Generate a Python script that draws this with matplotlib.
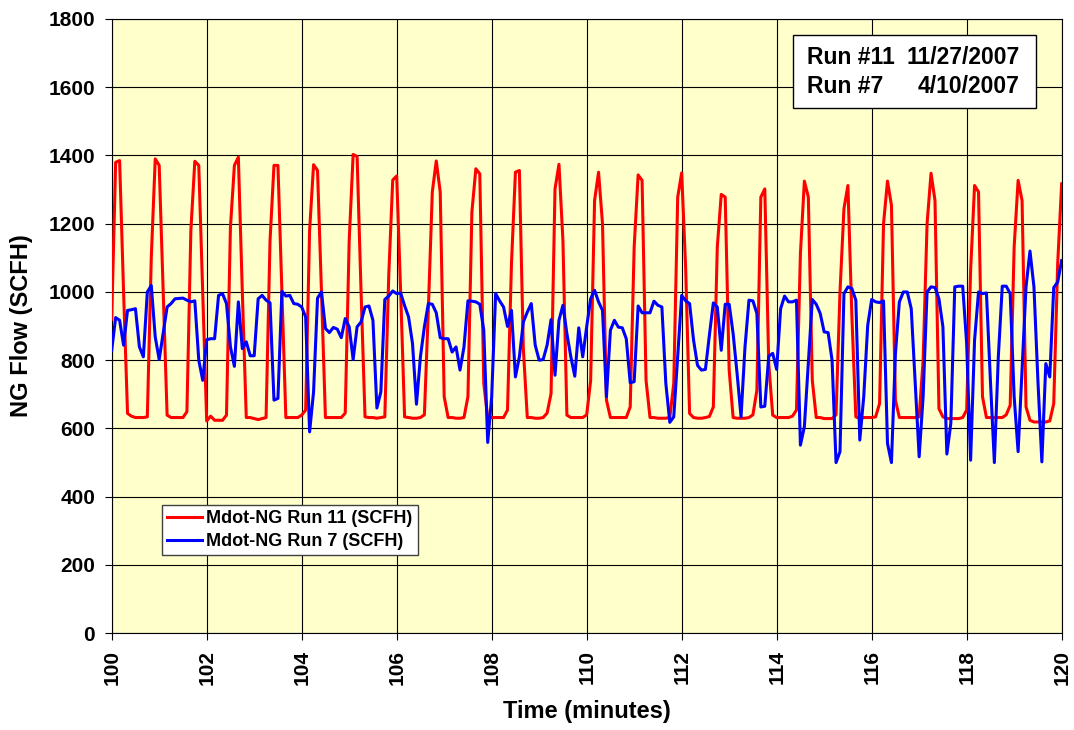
import numpy as np
import matplotlib
matplotlib.use('Agg')
import matplotlib.pyplot as plt
from matplotlib.patches import Rectangle

plt.rcParams['font.family'] = ['Liberation Sans', 'DejaVu Sans']
plt.rcParams['font.weight'] = 'bold'

# samples every 5 s, starting at 100 min
t_start = 100.0
dt_min = 5.0 / 60.0

run11 = [920, 1380, 1385, 1000, 644, 636, 632, 632, 632, 634,
         1100, 1390, 1371, 1000, 639, 632, 632, 632, 632, 649,
         1180, 1383, 1371, 1000, 622, 636, 624, 624, 624, 639,
         1190, 1371, 1395, 1000, 632, 632, 629, 626, 629, 632,
         1150, 1371, 1371, 1000, 632, 632, 632, 632, 639, 654,
         1180, 1373, 1356, 1000, 632, 632, 632, 632, 632, 645,
         1150, 1403, 1397, 1000, 634, 632, 632, 630, 632, 634,
         1050, 1328, 1340, 1000, 634, 632, 630, 630, 632, 640,
         950, 1293, 1384, 1293, 693, 632, 632, 630, 630, 632,
         693, 1234, 1361, 1346, 732, 632, 632, 632, 632, 632,
         654, 1083, 1351, 1356, 834, 632, 632, 630, 630, 632,
         645, 702, 1302, 1374, 1151, 639, 632, 632, 632, 632,
         640, 740, 1268, 1351, 1200, 683, 632, 632, 632, 632,
         632, 663, 1132, 1343, 1327, 741, 632, 632, 630, 630,
         630, 632, 732, 1278, 1349, 1073, 644, 632, 630, 630,
         632, 635, 663, 1132, 1286, 1278, 771, 632, 630, 630,
         630, 632, 640, 712, 1278, 1302, 790, 639, 632, 632,
         632, 632, 636, 654, 1112, 1325, 1278, 741, 632, 632,
         629, 629, 629, 640, 1000, 1244, 1312, 930, 634, 629,
         632, 632, 632, 634, 673, 1200, 1325, 1254, 683, 632,
         632, 632, 632, 632, 634, 800, 1200, 1348, 1268, 658,
         634, 629, 629, 629, 629, 632, 654, 1063, 1312, 1293,
         693, 632, 632, 632, 632, 632, 640, 668, 1132, 1327,
         1268, 663, 624, 619, 619, 619, 619, 622, 673, 1083,
         1317]

run7 = [829, 925, 917, 844, 946, 948, 951, 839, 810, 1000,
        1019, 868, 802, 880, 956, 966, 980, 981, 982, 976,
        971, 974, 800, 741, 860, 863, 863, 990, 995, 966,
        839, 782, 971, 834, 854, 813, 813, 980, 990, 976,
        968, 683, 688, 1002, 988, 990, 966, 964, 956, 927,
        590, 707, 982, 1000, 893, 881, 896, 891, 866, 922,
        898, 802, 898, 912, 956, 959, 917, 660, 707, 978,
        988, 1003, 995, 997, 960, 927, 849, 671, 810, 898,
        966, 964, 939, 866, 863, 863, 824, 839, 771, 839,
        974, 973, 971, 964, 888, 559, 693, 995, 974, 956,
        899, 946, 751, 810, 912, 941, 966, 844, 800, 802,
        844, 919, 756, 917, 961, 878, 810, 753, 895, 810,
        898, 980, 1005, 971, 946, 693, 888, 917, 897, 895,
        863, 734, 737, 959, 939, 939, 939, 973, 961, 956,
        732, 618, 634, 810, 990, 974, 966, 859, 785, 771,
        773, 873, 968, 956, 829, 964, 964, 878, 761, 634,
        839, 976, 974, 937, 663, 665, 812, 820, 773, 951,
        988, 971, 971, 976, 551, 605, 790, 978, 964, 937,
        883, 881, 800, 500, 532, 995, 1015, 1010, 976, 566,
        693, 902, 978, 971, 969, 974, 556, 500, 819, 971,
        1000, 1000, 951, 732, 517, 693, 1000, 1015, 1013, 980,
        898, 525, 615, 1015, 1017, 1017, 849, 507, 859, 1000,
        995, 997, 741, 500, 810, 1017, 1017, 995, 693, 532,
        771, 1015, 1120, 1015, 741, 502, 790, 751, 1013, 1029,
        1092]

labels = ['Mdot-NG Run 11 (SCFH)', 'Mdot-NG Run 7 (SCFH)']
box_runs = ['Run #11', 'Run #7']
box_dates = ['11/27/2007', '4/10/2007']

t = t_start + np.arange(len(run11)) * dt_min

fig = plt.figure(figsize=(10.74, 7.30), dpi=100)
ax = fig.add_axes([0.104, 0.1326, 0.8845, 0.8414])
ax.set_facecolor('#FFFFCC')

ax.plot(t, run11, color='#FF0000', lw=2.2, label=labels[0], zorder=3)
ax.plot(t, run7, color='#0000FF', lw=2.2, label=labels[1], zorder=3)

ax.set_xlim(100, 120)
ax.set_ylim(0, 1800)
ax.set_xticks(np.arange(100, 121, 2))
ax.set_yticks(np.arange(0, 1801, 200))
ax.grid(True, color='black', lw=0.8, zorder=1)
ax.set_axisbelow(True)
ax.tick_params(axis='both', direction='out', length=5, width=0.8, labelsize=15, pad=7)
plt.setp(ax.get_xticklabels(), rotation=90, fontweight='bold')
plt.setp(ax.get_yticklabels(), fontweight='bold')
for s in ax.spines.values():
    s.set_color('black')
    s.set_linewidth(0.8)

ax.set_xlabel('Time (minutes)', fontsize=17, fontweight='bold')
ax.set_ylabel('NG Flow (SCFH)', fontsize=17, fontweight='bold')
ax.xaxis.set_label_coords(0.5, -0.108)
ax.yaxis.set_label_coords(-0.083, 0.5)

leg = ax.legend(loc='upper left', bbox_to_anchor=(0.0526, 0.2087), borderaxespad=0,
                fontsize=13, frameon=True, fancybox=False, handlelength=1.95,
                handletextpad=0.2, labelspacing=0.3, borderpad=0.3)
leg.get_frame().set_edgecolor('#404040')
leg.get_frame().set_facecolor('white')
leg.get_frame().set_alpha(1)
leg.get_frame().set_linewidth(1.0)
for txt in leg.get_texts():
    txt.set_fontweight('bold')

ax.add_patch(Rectangle((0.7168, 0.8556), 0.2562, 0.1184, transform=ax.transAxes,
                       facecolor='white', edgecolor='black', lw=1.0, zorder=5))
for k, yy in enumerate([0.9377, 0.8898]):
    ax.text(0.7316, yy, box_runs[k], transform=ax.transAxes, fontsize=16.5,
            fontweight='bold', ha='left', va='center', zorder=6)
    ax.text(0.9554, yy, box_dates[k], transform=ax.transAxes, fontsize=16.5,
            fontweight='bold', ha='right', va='center', zorder=6)

fig.savefig('out.png', dpi=100)
